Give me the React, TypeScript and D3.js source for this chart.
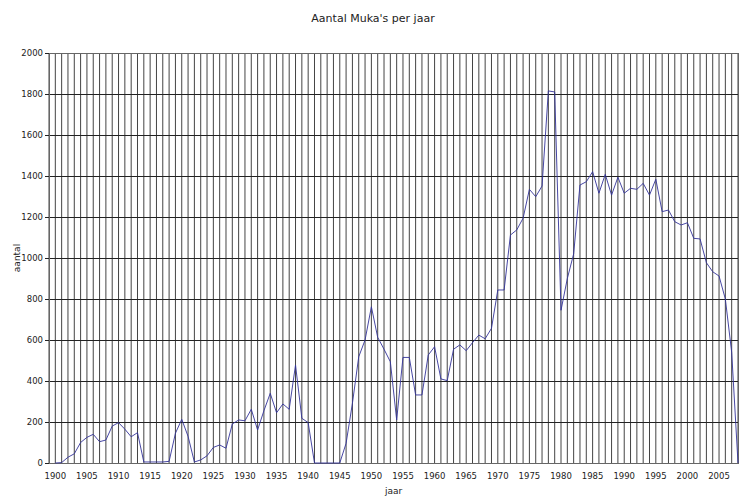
import React from 'react';
import * as d3 from 'd3';

// jaren op de categorie-as (1899 heeft geen waarde)
const years: number[] = d3.range(1899, 2009);

const counts: (number | null)[] = [
  null, 0, 2, 28, 45, 100, 125, 140, 104, 112,
  180, 197, 165, 128, 148, 5, 5, 5, 5, 8,
  145, 213, 130, 5, 15, 35, 76, 88, 72, 190,
  210, 206, 262, 161, 255, 340, 245, 288, 262, 478,
  218, 197, 0, 0, 0, 0, 0, 96, 291, 518,
  600, 762, 613, 555, 494, 210, 515, 515, 332, 332,
  527, 567, 410, 402, 555, 576, 548, 587, 624, 606,
  657, 844, 844, 1112, 1137, 1194, 1335, 1299, 1351, 1815,
  1810, 745, 900, 1020, 1356, 1372, 1421, 1316, 1408, 1307,
  1394, 1316, 1340, 1335, 1364, 1307, 1384, 1226, 1234, 1177,
  1161, 1172, 1096, 1093, 977, 933, 912, 800, 540, 0,
];

const xTickLabels: number[] = [
  1900, 1905, 1910, 1915, 1920, 1925, 1930, 1935, 1940, 1945, 1950,
  1955, 1960, 1965, 1970, 1975, 1980, 1985, 1990, 1995, 2000, 2005,
];
const yTicks: number[] = [0, 200, 400, 600, 800, 1000, 1200, 1400, 1600, 1800, 2000];

const title = "Aantal Muka's per jaar";
const xTitle = 'jaar';
const yTitle = 'aantal';

const width = 746;
const height = 504;
const margin = { top: 53, right: 8, bottom: 41, left: 49 };
const font = 'Verdana, "DejaVu Sans", sans-serif';

const App = () => {
  const x = d3
    .scalePoint<number>()
    .domain(years)
    .range([margin.left, width - margin.right]);

  const y = d3
    .scaleLinear()
    .domain([0, 2000])
    .range([height - margin.bottom, margin.top]);

  const points = years.map((yr, i) => ({ yr, v: counts[i] }));

  const line = d3
    .line<{ yr: number; v: number | null }>()
    .defined((d) => d.v !== null)
    .x((d) => x(d.yr) as number)
    .y((d) => y(d.v as number));

  const x0 = margin.left;
  const x1 = width - margin.right;
  const yb = y(0);
  const yt = y(2000);

  return (
    <svg
      width={width}
      height={height}
      style={{ position: 'absolute', left: 0, top: 0, background: '#fff' }}
      fontFamily={font}
    >
      <text x={373} y={22} textAnchor="middle" fontSize={11} fill="#222">
        {title}
      </text>

      {/* verticale rasterlijnen */}
      <g stroke="#444" strokeWidth={1}>
        {years.map((yr) => (
          <line key={yr} x1={x(yr)} x2={x(yr)} y1={yt} y2={yb} />
        ))}
      </g>

      {/* horizontale rasterlijnen */}
      <g stroke="#222" strokeWidth={1} shapeRendering="crispEdges">
        {yTicks.map((t) => (
          <line key={t} x1={x0 - 4} x2={x1} y1={y(t)} y2={y(t)} />
        ))}
      </g>

      <rect
        x={x0}
        y={yt}
        width={x1 - x0}
        height={yb - yt}
        fill="none"
        stroke="#666"
        strokeWidth={1}
        shapeRendering="crispEdges"
      />

      <path
        d={line(points) || ''}
        fill="none"
        stroke="#33339a"
        strokeWidth={0.9}
      />

      <g fontSize={8.5} fill="#222">
        {yTicks.map((t) => (
          <text key={t} x={x0 - 6} y={y(t) + 3} textAnchor="end">
            {t}
          </text>
        ))}
        {xTickLabels.map((yr) => (
          <text key={yr} x={x(yr)} y={yb + 16} textAnchor="middle">
            {yr}
          </text>
        ))}
      </g>

      <text x={(x0 + x1) / 2} y={494} textAnchor="middle" fontSize={9} fill="#222">
        {xTitle}
      </text>
      <text
        transform={`translate(20,${(yt + yb) / 2}) rotate(-90)`}
        textAnchor="middle"
        fontSize={9}
        fill="#222"
      >
        {yTitle}
      </text>
    </svg>
  );
};

export default App;
